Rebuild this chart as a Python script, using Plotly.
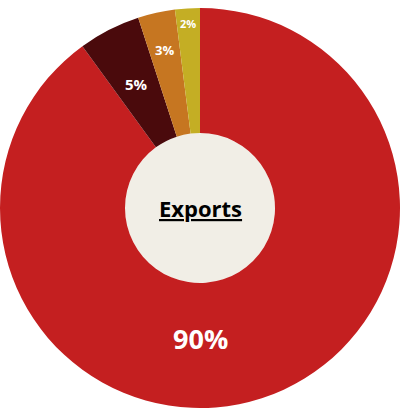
import plotly.graph_objects as go
import math

labels = ["Main", "Second", "Third", "Fourth"]
values = [90, 5, 3, 2]
text_labels = ["90%", "5%", "3%", "2%"]
colors = ["#C41F20", "#4A0A0C", "#C67621", "#C4AE24"]

# label styling / placement (px radius from centre, font size)
text_sizes = [27, 15, 13, 11]
text_radius = [130, 139, 162, 185]

W, H = 400, 408
R = 200
cx, cy = 200, 208  # pixel centre of pie (from top-left)

fig = go.Figure(go.Pie(
    labels=labels,
    values=values,
    textinfo="none",
    marker=dict(colors=colors, line=dict(width=0)),
    hole=0.375,
    sort=False,
    direction="clockwise",
    rotation=0,
    showlegend=False,
    hoverinfo="label+percent",
    domain=dict(x=[0, 1], y=[0, 2 * R / H]),
))

fig.add_shape(type="circle", xref="paper", yref="paper",
              x0=(cx - 75) / W, x1=(cx + 75) / W,
              y0=(H - cy - 75) / H, y1=(H - cy + 75) / H,
              fillcolor="#F1EEE6", line=dict(width=0), layer="below")

total = sum(values)
cum = 0
for i, v in enumerate(values):
    mid = (cum + v / 2) / total * 360
    cum += v
    if i == 0:
        mid = 180  # big slice label sits at the bottom
    a = math.radians(mid)
    px = cx + text_radius[i] * math.sin(a)
    py = cy - text_radius[i] * math.cos(a)
    fig.add_annotation(x=px / W, y=(H - py) / H, xref="paper", yref="paper",
                       xanchor="center", yanchor="middle",
                       text="<b>" + text_labels[i] + "</b>", showarrow=False,
                       font=dict(family="Open Sans", size=text_sizes[i], color="white"))

fig.add_annotation(x=cx / W, y=(H - cy) / H, xref="paper", yref="paper",
                   xanchor="center", yanchor="middle",
                   text="<b><u>Exports</u></b>", showarrow=False,
                   font=dict(family="Open Sans", size=22, color="black"))

fig.update_layout(
    width=W, height=H,
    margin=dict(l=0, r=0, t=0, b=0),
    paper_bgcolor="white",
)

fig.write_html("out.html", config={"displayModeBar": False},
               post_script="document.body.style.margin='0';")
